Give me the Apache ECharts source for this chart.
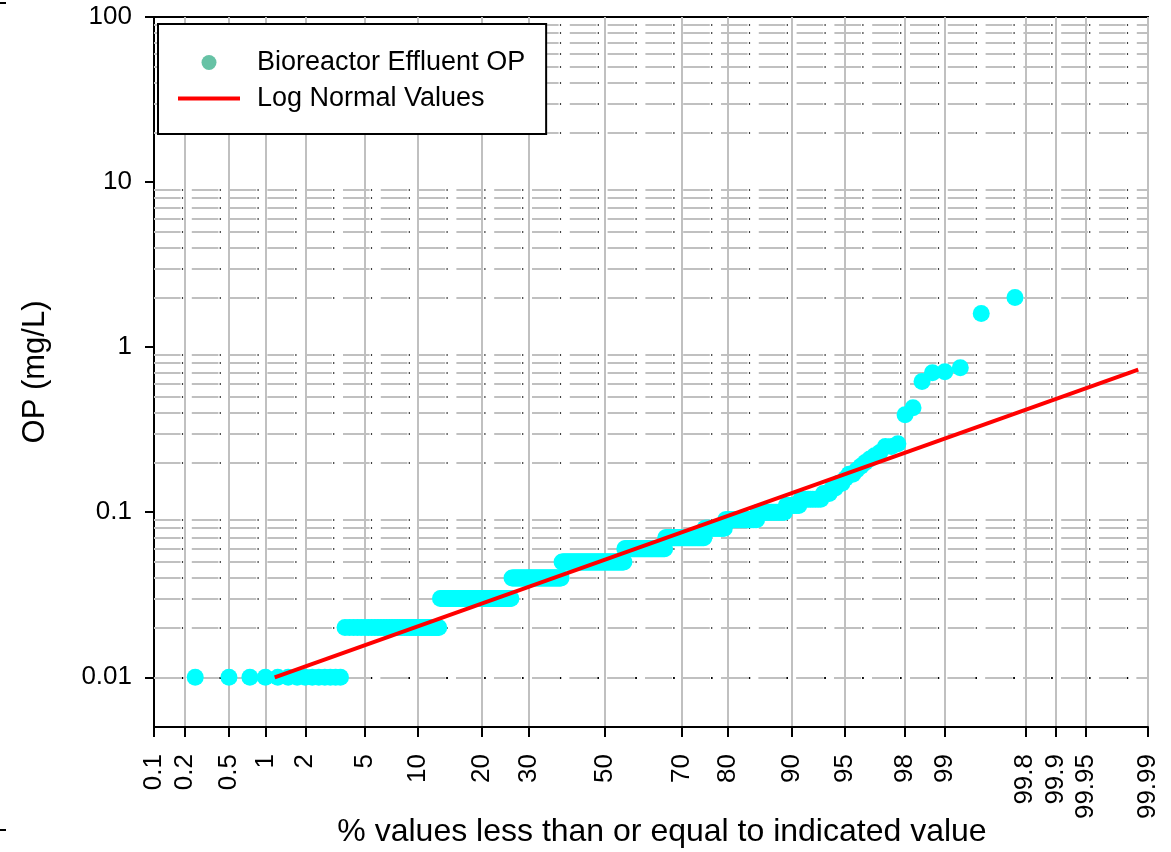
<!DOCTYPE html>
<html>
<head>
<meta charset="utf-8">
<title>Bioreactor Effluent OP</title>
<script src="https://cdn.jsdelivr.net/npm/echarts@6/dist/echarts.min.js"></script>
<style>
  html, body { margin: 0; padding: 0; background: #fff; }
  #chart { width: 1171px; height: 852px; }
</style>
</head>
<body>
<div id="chart"></div>
<script>
// distinct OP values (mg/L), smallest first, and how many samples sit at each
var opValues = [0.01, 0.02, 0.03, 0.04, 0.05, 0.06, 0.07, 0.08, 0.09, 0.10, 0.11, 0.12,
  0.13, 0.14, 0.15, 0.16, 0.17, 0.18, 0.19, 0.20, 0.21, 0.22, 0.23, 0.25, 0.26,
  0.39, 0.43, 0.62, 0.70, 0.71, 0.75, 1.6, 2.0];
var opCounts = [14, 37, 53, 49, 68, 43, 37, 17, 23, 16, 7, 9,
  3, 2, 2, 1, 2, 1, 1, 1, 1, 1, 1, 2, 1,
  1, 1, 1, 1, 1, 1, 1, 1];

// log normal fit, both ends (% and mg/L)
var fitPct = [1.18, 99.987];
var fitVal = [0.0100, 0.732];

// probability axis ticks (%)
var pctTicks = ['0.1', '0.2', '0.5', '1', '2', '5', '10', '20', '30', '50',
  '70', '80', '90', '95', '98', '99', '99.8', '99.9', '99.95', '99.99'];

// minor grid lines on the log axis
var gridMantissa = [2, 3, 4, 5, 6, 7, 8, 9];
var gridDecades = [0.001, 0.01, 0.1, 1, 10];

// inverse normal cdf (Acklam)
function probit(p) {
  var a = [-3.969683028665376e+01, 2.209460984245205e+02, -2.759285104469687e+02, 1.383577518672690e+02, -3.066479806614716e+01, 2.506628277459239e+00];
  var b = [-5.447609879822406e+01, 1.615858368580409e+02, -1.556989798598866e+02, 6.680131188771972e+01, -1.328068155288572e+01];
  var c = [-7.784894002430293e-03, -3.223964580411365e-01, -2.400758277161838e+00, -2.549732539343734e+00, 4.374664141464968e+00, 2.938163982698783e+00];
  var d = [7.784695709041462e-03, 3.224671290700398e-01, 2.445134137142996e+00, 3.754408661907416e+00];
  var plow = 0.02425, q, r;
  if (p < plow) {
    q = Math.sqrt(-2 * Math.log(p));
    return (((((c[0] * q + c[1]) * q + c[2]) * q + c[3]) * q + c[4]) * q + c[5]) / ((((d[0] * q + d[1]) * q + d[2]) * q + d[3]) * q + 1);
  }
  if (p <= 1 - plow) {
    q = p - 0.5; r = q * q;
    return (((((a[0] * r + a[1]) * r + a[2]) * r + a[3]) * r + a[4]) * r + a[5]) * q / (((((b[0] * r + b[1]) * r + b[2]) * r + b[3]) * r + b[4]) * r + 1);
  }
  q = Math.sqrt(-2 * Math.log(1 - p));
  return -(((((c[0] * q + c[1]) * q + c[2]) * q + c[3]) * q + c[4]) * q + c[5]) / ((((d[0] * q + d[1]) * q + d[2]) * q + d[3]) * q + 1);
}

var zTicks = pctTicks.map(function (t) { return probit(parseFloat(t) / 100); });

// plotting positions i/(n+1)
var n = opCounts.reduce(function (s, c) { return s + c; }, 0);
var points = [];
var rank = 0;
opValues.forEach(function (v, k) {
  for (var j = 0; j < opCounts[k]; j++) {
    rank++;
    points.push([probit(rank / (n + 1)), v]);
  }
});

var fitLine = fitPct.map(function (p, i) { return [probit(p / 100), fitVal[i]]; });

var minorVals = [];
gridDecades.forEach(function (dec) {
  gridMantissa.forEach(function (m) {
    var v = +(m * dec).toPrecision(3);
    if (v > 0.005 && v < 100) minorVals.push({ yAxis: v });
  });
});

var myChart = echarts.init(document.getElementById('chart'));

var option = {
  animation: false,
  textStyle: { fontFamily: 'Liberation Sans, Arial, sans-serif', color: '#000' },
  grid: {
    left: 154, right: 23, top: 17, bottom: 125,
    outerBoundsMode: 'none',
    show: true, borderColor: '#000', borderWidth: 2
  },
  legend: {
    left: 158, top: 24, orient: 'vertical',
    itemWidth: 62, itemHeight: 15, itemGap: 9,
    padding: [25, 21, 22, 20],
    backgroundColor: '#fff', borderColor: '#000', borderWidth: 2,
    textStyle: { fontSize: 27, color: '#000', lineHeight: 26, padding: [0, 0, 0, 12] },
    data: [
      { name: 'Bioreactor Effluent OP', icon: 'circle', itemStyle: { color: '#66C2A5' } },
      { name: 'Log Normal Values', icon: 'path://M0,0H62V4H0Z', itemStyle: { color: '#FF0000' } }
    ]
  },
  xAxis: {
    type: 'value',
    min: zTicks[0],
    max: zTicks[zTicks.length - 1],
    axisLine: { onZero: false, lineStyle: { color: '#000', width: 2 } },
    axisTick: { customValues: zTicks, length: 10, lineStyle: { color: '#000', width: 2 } },
    axisLabel: {
      customValues: zTicks, rotate: 90, margin: 27, fontSize: 26, color: '#000',
      formatter: function (v) {
        var best = 0;
        for (var i = 1; i < zTicks.length; i++) {
          if (Math.abs(zTicks[i] - v) < Math.abs(zTicks[best] - v)) best = i;
        }
        return pctTicks[best];
      }
    },
    splitLine: { show: true, lineStyle: { color: '#c0c0c0', width: 2 } },
    name: '% values less than or equal to indicated value',
    nameLocation: 'middle', nameGap: 89, nameMoveOverlap: false,
    nameTextStyle: { fontSize: 32, color: '#000', padding: [0, 0, 0, 22] }
  },
  yAxis: {
    type: 'log', logBase: 10, min: 0.005, max: 100,
    axisLine: { onZero: false, lineStyle: { color: '#000', width: 2 } },
    axisTick: { length: 9, lineStyle: { color: '#000', width: 2 } },
    axisLabel: { fontSize: 26, margin: 22, color: '#000', showMinLabel: false },
    splitLine: { show: false },
    name: 'OP (mg/L)', nameLocation: 'middle', nameGap: 103, nameMoveOverlap: false,
    nameTextStyle: { fontSize: 31, color: '#000' }
  },
  series: [
    {
      name: 'hgrid', type: 'line', data: [], silent: true,
      markLine: {
        silent: true, symbol: ['none', 'none'], z: 1, label: { show: false },
        lineStyle: { color: '#c0c0c0', width: 2, type: [26.6, 11.2] },
        emphasis: { disabled: true },
        data: minorVals
      }
    },
    {
      name: 'hgridDots', type: 'line', data: [], silent: true,
      markLine: {
        silent: true, symbol: ['none', 'none'], z: 1, label: { show: false },
        lineStyle: { color: '#000', width: 1.5, type: [1.2, 36.6], dashOffset: 9.9 },
        emphasis: { disabled: true },
        data: minorVals
      }
    },
    {
      name: 'Bioreactor Effluent OP', type: 'scatter', z: 2,
      symbol: 'circle', symbolSize: 17,
      itemStyle: { color: '#00FFFF', opacity: 1 },
      data: points
    },
    {
      name: 'Log Normal Values', type: 'line', z: 3,
      symbol: 'none', lineStyle: { color: '#FF0000', width: 4 },
      itemStyle: { color: '#FF0000' },
      data: fitLine
    }
  ],
  graphic: [
    { type: 'rect', left: 0, top: 2, shape: { width: 6, height: 2 }, style: { fill: '#000' } },
    { type: 'rect', left: 0, top: 829, shape: { width: 6, height: 2 }, style: { fill: '#000' } }
  ]
};

myChart.setOption(option);
window.addEventListener('resize', function () { myChart.resize(); });
</script>
</body>
</html>
